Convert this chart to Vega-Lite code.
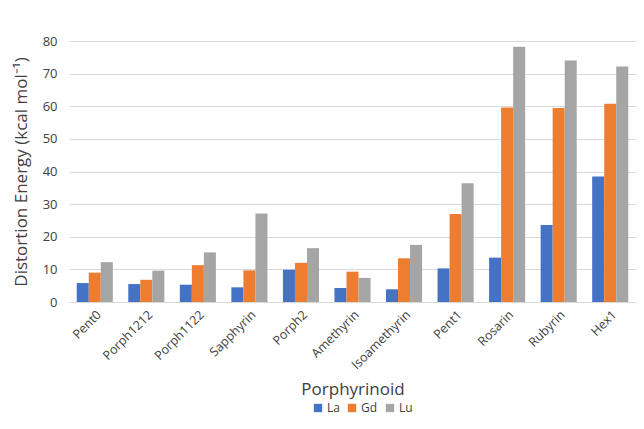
{
  "$schema": "https://vega.github.io/schema/vega-lite/v6.json",
  "width": 567,
  "height": 261,
  "padding": {"left": 12, "top": 35, "right": 10, "bottom": 5},
  "background": "white",
  "config": {
    "font": "Open Sans",
    "view": {"stroke": null},
    "axis": {"labelColor": "#404040", "titleColor": "#404040", "labelFont": "Open Sans", "titleFont": "Open Sans"}
  },
  "data": {
    "values": [
      {"p": "Pent0", "s": "La", "v": 5.8}, {"p": "Pent0", "s": "Gd", "v": 9.0}, {"p": "Pent0", "s": "Lu", "v": 12.2},
      {"p": "Porph1212", "s": "La", "v": 5.5}, {"p": "Porph1212", "s": "Gd", "v": 6.8}, {"p": "Porph1212", "s": "Lu", "v": 9.6},
      {"p": "Porph1122", "s": "La", "v": 5.3}, {"p": "Porph1122", "s": "Gd", "v": 11.3}, {"p": "Porph1122", "s": "Lu", "v": 15.2},
      {"p": "Sapphyrin", "s": "La", "v": 4.5}, {"p": "Sapphyrin", "s": "Gd", "v": 9.7}, {"p": "Sapphyrin", "s": "Lu", "v": 27.1},
      {"p": "Porph2", "s": "La", "v": 9.9}, {"p": "Porph2", "s": "Gd", "v": 12.0}, {"p": "Porph2", "s": "Lu", "v": 16.5},
      {"p": "Amethyrin", "s": "La", "v": 4.3}, {"p": "Amethyrin", "s": "Gd", "v": 9.3}, {"p": "Amethyrin", "s": "Lu", "v": 7.4},
      {"p": "Isoamethyrin", "s": "La", "v": 3.9}, {"p": "Isoamethyrin", "s": "Gd", "v": 13.4}, {"p": "Isoamethyrin", "s": "Lu", "v": 17.5},
      {"p": "Pent1", "s": "La", "v": 10.3}, {"p": "Pent1", "s": "Gd", "v": 27.0}, {"p": "Pent1", "s": "Lu", "v": 36.4},
      {"p": "Rosarin", "s": "La", "v": 13.6}, {"p": "Rosarin", "s": "Gd", "v": 59.6}, {"p": "Rosarin", "s": "Lu", "v": 78.2},
      {"p": "Rubyrin", "s": "La", "v": 23.6}, {"p": "Rubyrin", "s": "Gd", "v": 59.5}, {"p": "Rubyrin", "s": "Lu", "v": 74.0},
      {"p": "Hex1", "s": "La", "v": 38.5}, {"p": "Hex1", "s": "Gd", "v": 60.8}, {"p": "Hex1", "s": "Lu", "v": 72.2}
    ]
  },
  "mark": {"type": "bar"},
  "encoding": {
    "x": {
      "field": "p", "type": "nominal", "sort": null,
      "scale": {"paddingInner": 0.3, "paddingOuter": 0.15},
      "axis": {"title": "Porphyrinoid", "labelAngle": -45, "labelFontSize": 12.5, "titleFontSize": 17, "titleFontWeight": "normal", "domain": false, "ticks": false, "labelPadding": 6, "titlePadding": 10}
    },
    "xOffset": {"field": "s", "sort": ["La", "Gd", "Lu"]},
    "y": {
      "field": "v", "type": "quantitative",
      "scale": {"domain": [0, 80]},
      "axis": {"title": "Distortion Energy (kcal mol⁻¹)", "values": [0, 10, 20, 30, 40, 50, 60, 70, 80], "labelOverlap": false, "labelFontSize": 13, "titleFontSize": 17, "titleFontWeight": "normal", "domain": false, "ticks": false, "gridColor": "#D9D9D9", "labelPadding": 12, "titlePadding": 12}
    },
    "color": {
      "field": "s", "type": "nominal", "sort": ["La", "Gd", "Lu"],
      "scale": {"domain": ["La", "Gd", "Lu"], "range": ["#4472C4", "#ED7D31", "#A5A5A5"]},
      "legend": {"title": null, "orient": "none", "legendX": 243, "legendY": 361, "direction": "horizontal", "symbolType": "square", "symbolSize": 70, "labelFontSize": 12, "labelColor": "#404040", "columnPadding": 6, "symbolStrokeWidth": 0, "labelOffset": 3}
    }
  }
}
